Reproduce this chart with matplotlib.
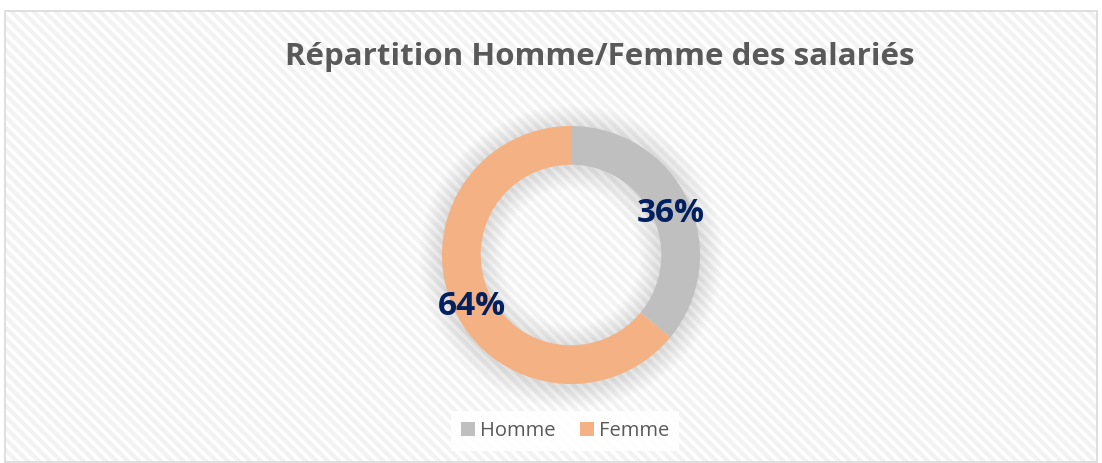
import matplotlib.pyplot as plt
from matplotlib.patches import Rectangle, Wedge

# Data
categories = ['Homme', 'Femme']
values = [36, 64]
colors = ['#BFBFBF', '#F4B183']

plt.rcParams['font.family'] = ['Open Sans', 'DejaVu Sans']
plt.rcParams['hatch.linewidth'] = 3.0

fig = plt.figure(figsize=(11.02, 4.63), dpi=100)

# Striped chart area background, border drawn separately
x0, y0, w0, h0 = 5 / 1102, 1 / 463, 1 - 10 / 1102, (463 - 12) / 463
stripes = Rectangle((x0, y0), w0, h0, transform=fig.transFigure, facecolor='white',
                    edgecolor='#F2F2F2', hatch='\\\\\\', linewidth=0, zorder=-5)
fig.add_artist(stripes)
border = Rectangle((x0, y0), w0, h0, transform=fig.transFigure, facecolor='none',
                   edgecolor='#D9D9D9', linewidth=1.2, zorder=-4)
fig.add_artist(border)

# Donut axis: centre ~ (571, 255), outer radius ~129 px
cx, cy, R = 571, 255, 129
ax = fig.add_axes([(cx - R) / 1102, (463 - cy - R) / 463, 2 * R / 1102, 2 * R / 463])
ax.set_zorder(2)
ax.patch.set_visible(False)
ax.axis('off')

# Soft shadow behind the ring
for i in range(14):
    w = 0.018 * (i + 1)
    sh = Wedge((0.0, -0.015), 1.0 + w * 0.7, 0, 360, width=0.3 + w * 1.4,
               facecolor='#000000', alpha=0.008, linewidth=0, zorder=1)
    sh.set_clip_on(False)
    ax.add_patch(sh)

wedges, texts, autotexts = ax.pie(values, colors=colors, startangle=90, counterclock=False,
                                  radius=1.0, wedgeprops=dict(width=0.3, linewidth=0),
                                  autopct='%1.0f%%', pctdistance=0.85)
for w in wedges:
    w.set_zorder(3)
for t in autotexts:
    t.set_color('#002060')
    t.set_fontsize(24)
    t.set_fontweight('bold')
    t.set_zorder(4)
    x, y = t.get_position()
    t.set_position((x, y - 0.04))
ax.set_xlim(-1, 1)
ax.set_ylim(-1, 1)
ax.set_aspect('equal')

fig.text(600 / 1102, 1 - 57 / 463, 'Répartition Homme/Femme des salariés',
         ha='center', va='center', fontsize=22.5, fontweight='bold', color='#595959')

leg = fig.legend(wedges, categories, loc='center', bbox_to_anchor=(565 / 1102, 1 - 431 / 463),
                 ncol=2, frameon=True, fontsize=14.5, handlelength=0.7, handleheight=0.7,
                 handletextpad=0.25, columnspacing=1.2, borderpad=0.5, fancybox=False)
leg.get_frame().set_facecolor('white')
leg.get_frame().set_edgecolor('none')
leg.get_frame().set_alpha(0.85)
for t in leg.get_texts():
    t.set_color('#595959')

fig.savefig('out.png', dpi=100)
